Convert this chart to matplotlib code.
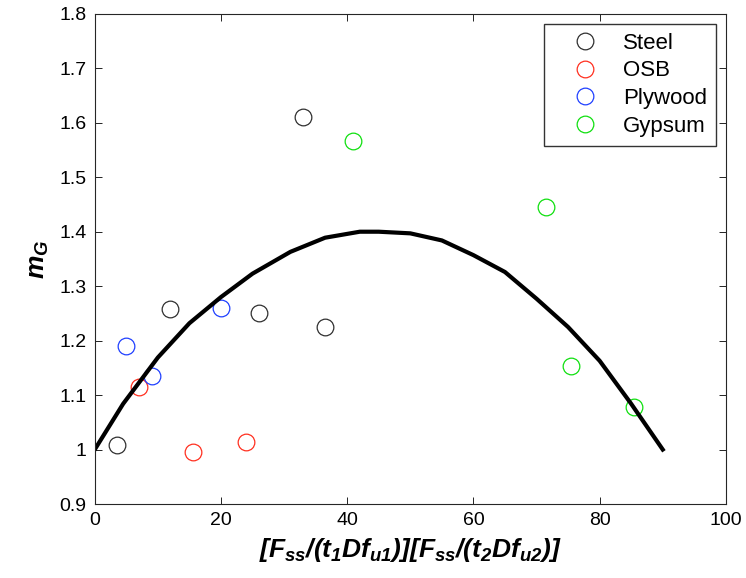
import matplotlib
matplotlib.use("Agg")
import matplotlib.pyplot as plt

plt.rcParams['font.family'] = ['Liberation Sans', 'DejaVu Sans']
plt.rcParams['mathtext.fontset'] = 'custom'
plt.rcParams['mathtext.it'] = 'Liberation Sans:bold:italic'
plt.rcParams['mathtext.rm'] = 'Liberation Sans:bold:italic'
plt.rcParams['mathtext.bf'] = 'Liberation Sans:bold:italic'

# test data
steel_x = [3.5, 12, 26, 33, 36.5]
steel_y = [1.008, 1.258, 1.25, 1.61, 1.225]
osb_x = [7, 15.5, 24]
osb_y = [1.115, 0.995, 1.013]
plywood_x = [5, 9, 20]
plywood_y = [1.19, 1.135, 1.26]
gypsum_x = [41, 71.5, 75.5, 85.5]
gypsum_y = [1.567, 1.445, 1.153, 1.078]

# fitted curve
fit_x = [0, 4.5, 10, 15, 20, 25, 31, 36.5, 42, 45, 50, 55, 60, 65, 70, 75, 80, 85, 90]
fit_y = [1.0, 1.084, 1.169, 1.232, 1.28, 1.323, 1.363, 1.389, 1.40, 1.40, 1.397, 1.384, 1.357,
         1.326, 1.277, 1.225, 1.163, 1.084, 1.0]

fig = plt.figure(figsize=(7.46, 5.78), dpi=100)
ax = fig.add_axes([0.127, 0.128, 0.846, 0.848])

ms = 12
ax.plot(steel_x, steel_y, 'o', mfc='none', mec='#303030', ms=ms, mew=0.9, label='Steel')
ax.plot(osb_x, osb_y, 'o', mfc='none', mec='#ff3020', ms=ms, mew=0.9, label='OSB')
ax.plot(plywood_x, plywood_y, 'o', mfc='none', mec='#2040ff', ms=ms, mew=0.9, label='Plywood')
ax.plot(gypsum_x, gypsum_y, 'o', mfc='none', mec='#10e010', ms=ms, mew=0.9, label='Gypsum')
ax.plot(fit_x, fit_y, 'k-', linewidth=3)

ax.set_xlim(0, 100)
ax.set_ylim(0.9, 1.8)
ax.set_xticks([0, 20, 40, 60, 80, 100])
ax.set_yticks([0.9, 1, 1.1, 1.2, 1.3, 1.4, 1.5, 1.6, 1.7, 1.8])
ax.set_yticklabels(['0.9', '1', '1.1', '1.2', '1.3', '1.4', '1.5', '1.6', '1.7', '1.8'])
ax.tick_params(direction='in', top=True, right=True, labelsize=14, length=5, width=0.6, pad=6)
for s in ax.spines.values():
    s.set_linewidth(0.8)
    s.set_color('#262626')

ax.set_xlabel(r'$[F_{ss}/(t_1Df_{u1})][F_{ss}/(t_2Df_{u2})]$', fontsize=19, labelpad=5)
ax.set_ylabel(r'$m_G$', fontsize=19, labelpad=6)

leg = ax.legend(loc='upper right', fontsize=16, frameon=True, fancybox=False,
                edgecolor='black', borderaxespad=0.45, borderpad=0.4, handlelength=2.9,
                handletextpad=0.25, labelspacing=0.3)
leg.get_frame().set_linewidth(1.0)

fig.savefig('out.png', dpi=100)
